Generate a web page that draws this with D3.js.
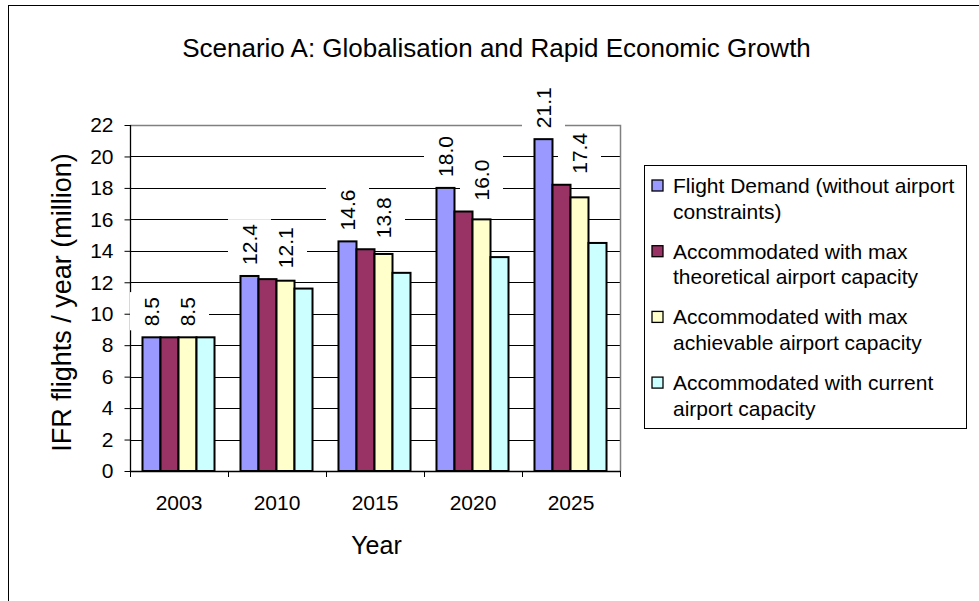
<!DOCTYPE html>
<html>
<head>
<meta charset="utf-8">
<script src="https://cdn.jsdelivr.net/npm/d3@7"></script>
<style>
  html, body { margin: 0; padding: 0; background: #fff; }
  svg { display: block; font-family: "Liberation Sans", Arial, sans-serif; }
</style>
</head>
<body>
<svg id="chart" width="979" height="601"></svg>
<script>
// ---- data ----
const years = ["2003", "2010", "2015", "2020", "2025"];
const seriesNames = [
  "Flight Demand (without airport constraints)",
  "Accommodated with max theoretical airport capacity",
  "Accommodated with max achievable airport capacity",
  "Accommodated with current airport capacity"
];
const legendLines = [
  ["Flight Demand (without airport", "constraints)"],
  ["Accommodated with max", "theoretical airport capacity"],
  ["Accommodated with max", "achievable airport capacity"],
  ["Accommodated with current", "airport capacity"]
];
const flightDemand = [8.5, 12.4, 14.6, 18.0, 21.1];
const maxTheoretical = [8.5, 12.2, 14.1, 16.5, 18.2];
const maxAchievable = [8.5, 12.1, 13.8, 16.0, 17.4];
const currentCapacity = [8.5, 11.6, 12.6, 13.6, 14.5];
const yTicks = [0, 2, 4, 6, 8, 10, 12, 14, 16, 18, 20, 22];
const labelledSeries = [0, 2];
const colors = ["#9999FF", "#993366", "#FFFFCC", "#CCFFFF"];
const titleText = "Scenario A: Globalisation and Rapid Economic Growth";
const yTitle = "IFR flights / year (million)";
const xTitle = "Year";

const seriesValues = [flightDemand, maxTheoretical, maxAchievable, currentCapacity];

// ---- layout ----
const svg = d3.select("#chart");
const W = 979, H = 601;
const plot = { left: 130, right: 620, top: 125, bottom: 471 };

svg.append("rect").attr("width", W).attr("height", H).attr("fill", "#fff");
svg.append("rect").attr("x", 8.5).attr("y", 5.5).attr("width", 1000).attr("height", 1000)
  .attr("fill", "none").attr("stroke", "#000").attr("stroke-width", 1);

const x0 = d3.scaleBand().domain(years).range([plot.left, plot.right]).paddingInner(0).paddingOuter(0);
const groupW = x0.bandwidth() * 0.735;
const x1 = d3.scaleBand().domain(d3.range(seriesValues.length)).range([0, groupW]).padding(0);
const groupOff = (x0.bandwidth() - groupW) / 2 - 0.5;
const y = d3.scaleLinear().domain([0, 22]).range([plot.bottom, plot.top]);

// gridlines
svg.append("g").selectAll("line").data(yTicks.filter(t => t > 0 && t < 22)).join("line")
  .attr("x1", plot.left).attr("x2", plot.right)
  .attr("y1", d => Math.round(y(d)) + 0.5).attr("y2", d => Math.round(y(d)) + 0.5)
  .attr("stroke", "#000").attr("stroke-width", 1);

// plot border (top & right, gray)
svg.append("path")
  .attr("d", `M${plot.left},${y(22) + 0.5}H${plot.right + 0.5}V${plot.bottom}`)
  .attr("fill", "none").attr("stroke", "#808080").attr("stroke-width", 1.5);

// y axis
const yAxis = d3.axisLeft(y).tickValues(yTicks).tickSize(6).tickPadding(11).tickFormat(d3.format("d"));
const gy = svg.append("g").attr("transform", `translate(${plot.left + 0.5},0)`).call(yAxis);
gy.select(".domain").attr("stroke", "#000").attr("stroke-width", 1.3).attr("d", `M0,${y(22)}V${plot.bottom}`);
gy.selectAll(".tick line").attr("stroke", "#000");
gy.selectAll(".tick text").attr("font-size", 21).attr("fill", "#000")
  .attr("font-family", "Liberation Sans, Arial, sans-serif");

// x axis labels
const xAxis = d3.axisBottom(x0).tickSize(0).tickPadding(24);
const gx = svg.append("g").attr("transform", `translate(0,${plot.bottom})`).call(xAxis);
gx.select(".domain").remove();
gx.selectAll(".tick text").attr("font-size", 21).attr("fill", "#000")
  .attr("font-family", "Liberation Sans, Arial, sans-serif");
// x axis line + boundary ticks
svg.append("line").attr("x1", plot.left).attr("x2", plot.right + 0.5)
  .attr("y1", plot.bottom + 0.5).attr("y2", plot.bottom + 0.5).attr("stroke", "#000").attr("stroke-width", 1.3);
const bounds = years.map(d => x0(d)).concat([plot.right]);
svg.append("g").selectAll("line").data(bounds).join("line")
  .attr("x1", d => d + 0.5).attr("x2", d => d + 0.5)
  .attr("y1", plot.bottom).attr("y2", plot.bottom + 6)
  .attr("stroke", "#000").attr("stroke-width", 1);

// bars
const barData = [];
years.forEach((yr, i) => seriesValues.forEach((vals, s) => barData.push({ yr, i, s, v: vals[i] })));
svg.append("g").selectAll("rect").data(barData).join("rect")
  .attr("x", d => x0(d.yr) + groupOff + x1(d.s))
  .attr("y", d => y(d.v))
  .attr("width", x1.bandwidth())
  .attr("height", d => plot.bottom - y(d.v))
  .attr("fill", d => colors[d.s])
  .attr("stroke", "#000").attr("stroke-width", 2);

// data labels (rotated, white box) — placed clear of the bars the box spans
const fmt = d3.format(".1f");
const labelData = barData.filter(d => labelledSeries.includes(d.s));
const gap = 11, fs = 21, boxW = 43;
const lg = svg.append("g");
labelData.forEach(d => {
  const cx = x0(d.yr) + groupOff + x1(d.s) + x1.bandwidth() / 2;
  // highest bar under the label box
  const under = seriesValues
    .map((vals, s) => ({ s, v: vals[d.i] }))
    .filter(o => {
      const bx = x0(d.yr) + groupOff + x1(o.s);
      return bx < cx + boxW / 2 - 2 && bx + x1.bandwidth() > cx - boxW / 2 + 2;
    });
  const top = y(d3.max(under, o => o.v));
  const box = lg.append("rect").attr("fill", "#fff");
  const t = lg.append("text")
    .attr("transform", `translate(${cx + fs * 0.36},${top - gap}) rotate(-90)`)
    .attr("font-size", fs).attr("fill", "#000").attr("text-anchor", "start")
    .text(fmt(d.v));
  const len = t.node().getComputedTextLength();
  box.attr("x", cx - boxW / 2).attr("width", boxW)
    .attr("y", top - gap - len - 5).attr("height", len + 9);
});

// titles
svg.append("text").attr("x", 496.5).attr("y", 57).attr("text-anchor", "middle")
  .attr("font-size", 26).attr("fill", "#000").text(titleText);
svg.append("text").attr("transform", `translate(71,302.5) rotate(-90)`).attr("text-anchor", "middle")
  .attr("font-size", 27).attr("fill", "#000").text(yTitle);
svg.append("text").attr("x", 376.5).attr("y", 554).attr("text-anchor", "middle")
  .attr("font-size", 25).attr("fill", "#000").text(xTitle);

// legend
const leg = svg.append("g");
leg.append("rect").attr("x", 644.5).attr("y", 165.5).attr("width", 322).attr("height", 263)
  .attr("fill", "#fff").attr("stroke", "#000").attr("stroke-width", 1);
seriesNames.forEach((name, i) => {
  const base = 193 + i * 65.7;
  leg.append("rect").attr("x", 652).attr("y", base - 13).attr("width", 11).attr("height", 11)
    .attr("fill", colors[i]).attr("stroke", "#000").attr("stroke-width", 1.3);
  const t = leg.append("text").attr("font-size", 21).attr("fill", "#000");
  legendLines[i].forEach((ln, j) => {
    t.append("tspan").attr("x", 673).attr("y", base + j * 25.5).text(ln);
  });
});
</script>
</body>
</html>
